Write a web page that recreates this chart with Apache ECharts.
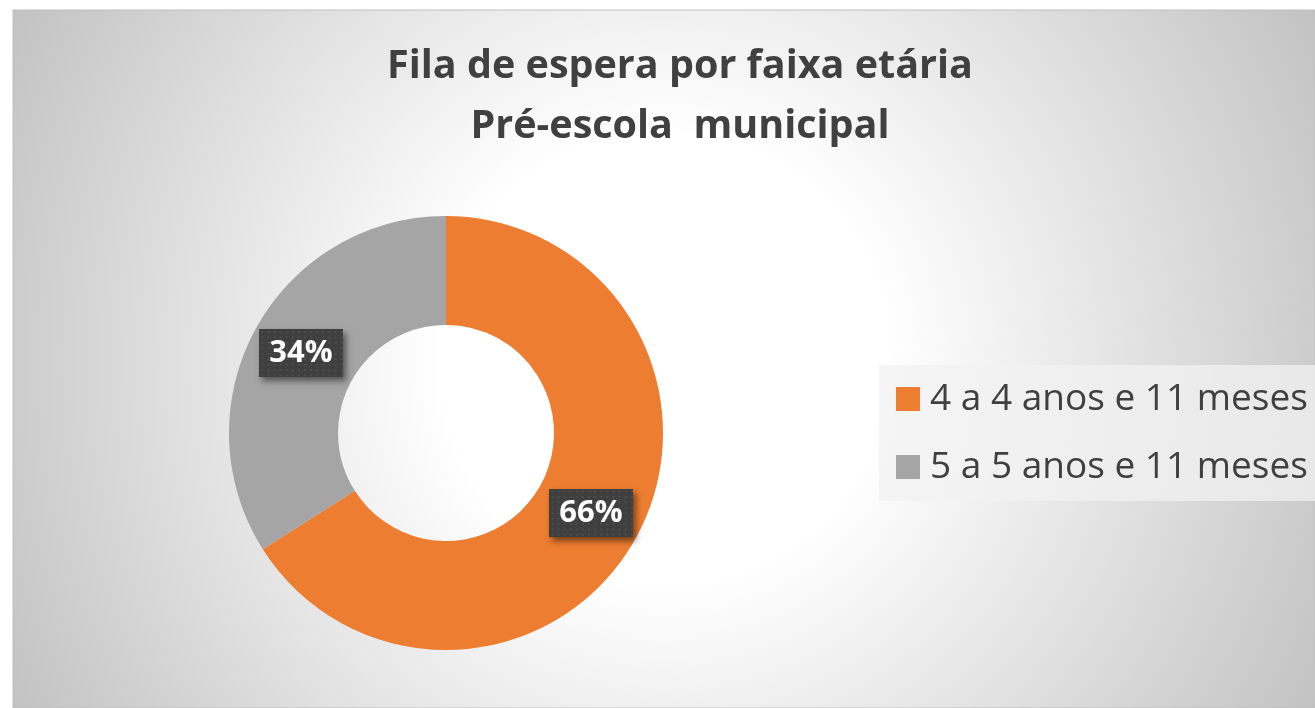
<!DOCTYPE html>
<html>
<head>
<meta charset="utf-8">
<script src="https://cdn.jsdelivr.net/npm/echarts@6/dist/echarts.min.js"></script>
<style>
  html, body { margin: 0; padding: 0; background: #fff; }
  #main { width: 1315px; height: 708px; }
</style>
</head>
<body>
<div id="main"></div>
<script>
const categories = ['4 a 4 anos e 11 meses', '5 a 5 anos e 11 meses'];
const values = [66, 34];
const colors = ['#ED7D31', '#A5A5A5'];

// dotted dark box behind the data labels
function dotBox(w, h) {
  const c = document.createElement('canvas');
  c.width = w; c.height = h;
  const ctx = c.getContext('2d');
  ctx.fillStyle = '#3f3f3f';
  ctx.fillRect(0, 0, w, h);
  ctx.fillStyle = '#4d4d4d';
  for (let y = 2; y < h; y += 6) {
    for (let x = 2; x < w; x += 6) {
      ctx.fillRect(x, y, 2, 2);
    }
  }
  return c;
}

var chartDom = document.getElementById('main');
var myChart = echarts.init(chartDom);
var option;

option = {
  textStyle: { fontFamily: 'Open Sans' },
  graphic: [
    {
      type: 'rect',
      z: -10,
      shape: { x: 13, y: 10, width: 1302, height: 698 },
      style: {
        fill: {
          type: 'radial', x: 0.5, y: 0.5, r: 1.06,
          colorStops: [
            { offset: 0, color: '#ffffff' },
            { offset: 0.3, color: '#ffffff' },
            { offset: 1, color: '#c2c2c2' }
          ]
        },
        stroke: '#bfbfbf',
        lineWidth: 1
      }
    }
  ],
  title: {
    text: 'Fila de espera por faixa etária\nPré-escola  municipal',
    left: 675,
    top: 32,
    textAlign: 'center',
    textStyle: {
      fontSize: 39.5,
      fontWeight: 'bold',
      color: '#404040',
      lineHeight: 60
    }
  },
  legend: {
    orient: 'vertical',
    left: 879,
    top: 365,
    padding: [14, 40, 14, 17],
    backgroundColor: 'rgba(242,242,242,0.75)',
    itemWidth: 24,
    itemHeight: 24,
    itemGap: 28,
    icon: 'rect',
    textStyle: { fontSize: 37, lineHeight: 40, color: '#404040', padding: [0, 0, 0, 5] },
    data: categories
  },
  series: [
    {
      type: 'pie',
      center: [446, 433],
      radius: [108, 217],
      startAngle: 90,
      clockwise: true,
      avoidLabelOverlap: false,
      emphasis: { disabled: true },
      label: {
        show: true,
        position: 'inside',
        formatter: '{d}%',
        fontSize: 31,
        fontWeight: 'bold',
        color: '#ffffff',
        backgroundColor: { image: dotBox(82, 53) },
        padding: [9, 10, 8, 10],
        shadowColor: 'rgba(0,0,0,0.5)',
        shadowBlur: 6,
        shadowOffsetX: 3,
        shadowOffsetY: 4
      },
      labelLine: { show: false },
      data: categories.map((name, i) => ({
        name: name,
        value: values[i],
        itemStyle: { color: colors[i] }
      }))
    }
  ]
};

option && myChart.setOption(option);
</script>
</body>
</html>
